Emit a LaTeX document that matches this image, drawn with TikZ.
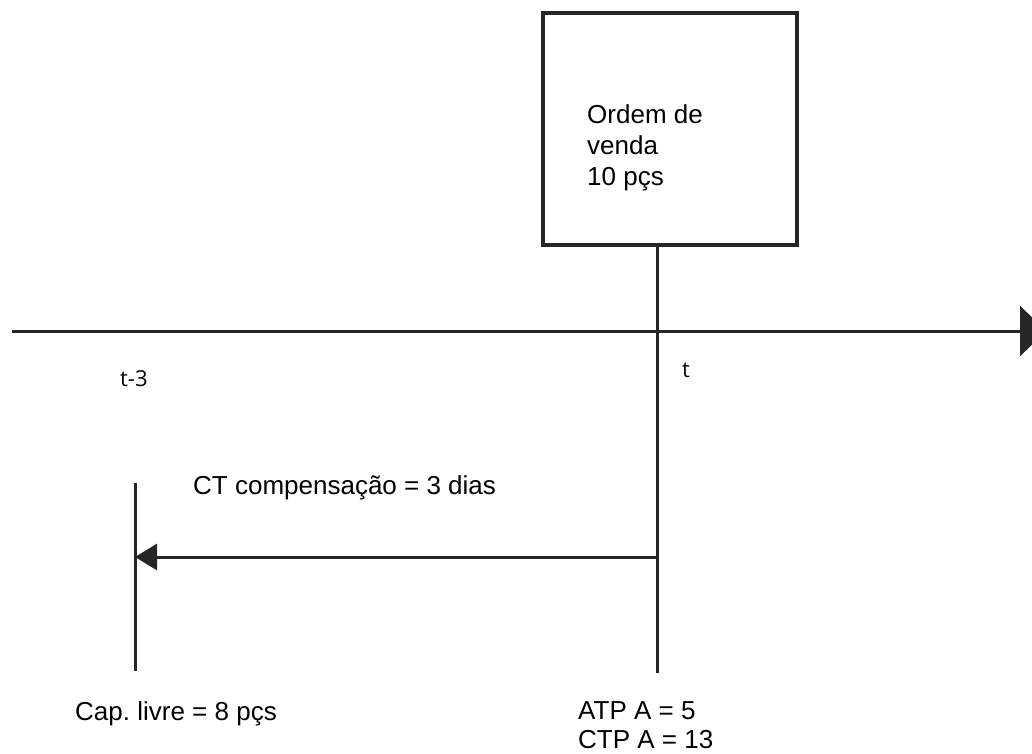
\documentclass[tikz,border=0pt]{standalone}
\usepackage{fontspec}
\setmainfont{Liberation Sans}
\newfontfamily\tfont{Open Sans}
\usetikzlibrary{arrows.meta}
\frenchspacing
\begin{document}
\begin{tikzpicture}[x=1pt,y=-1pt,
  line/.style={line width=3pt, black!85},
  lbl/.style={anchor=base west, inner sep=0pt, font=\fontsize{26}{31}\selectfont},
  tlbl/.style={anchor=base west, inner sep=0pt, font=\tfont\fontsize{22}{26}\selectfont},
  boxst/.style={draw=black!85, line width=3.4pt, minimum width=254pt, minimum height=232pt, inner sep=0pt}]
\useasboundingbox (0,0) rectangle (1032,753);
\clip (0,0) rectangle (1032,753);
% order box
\node[boxst] (order) at (670,129) {};
\node[lbl, align=left, anchor=north west] (ordertext) at (587,104) {Ordem de\\venda\\10 pçs};
% axis
\coordinate (axs) at (12,331);
\coordinate (axe) at (1046,331);
\draw[line, -{Triangle[length=26pt,width=50pt]}] (axs) -- (axe);
% main vertical line at t
\coordinate (tbot) at (657,673);
\draw[line] (tbot |- order.south) -- (tbot);
% left vertical line at t-3
\coordinate (ltop) at (135,483);
\coordinate (lbot) at (135,671);
\draw[line] (ltop) -- (lbot);
% compensation arrow
\coordinate (arrs) at (657,557);
\coordinate (arre) at (135,557);
\draw[line, -{Triangle[length=22pt,width=26pt]}] (arrs) -- (arre);
% labels
\node[tlbl] (tlab) at (682,377) {t};
\node[tlbl] (t3lab) at (120,386) {t-3};
\node[lbl] (ctlab) at (193,494) {CT compensação = 3 dias};
\node[lbl] (caplab) at (75,720) {Cap. livre = 8 pçs};
\node[lbl] (atplab) at (578,719) {ATP A = 5};
\node[lbl] (ctplab) at (578,748) {CTP A = 13};
\end{tikzpicture}
\end{document}
